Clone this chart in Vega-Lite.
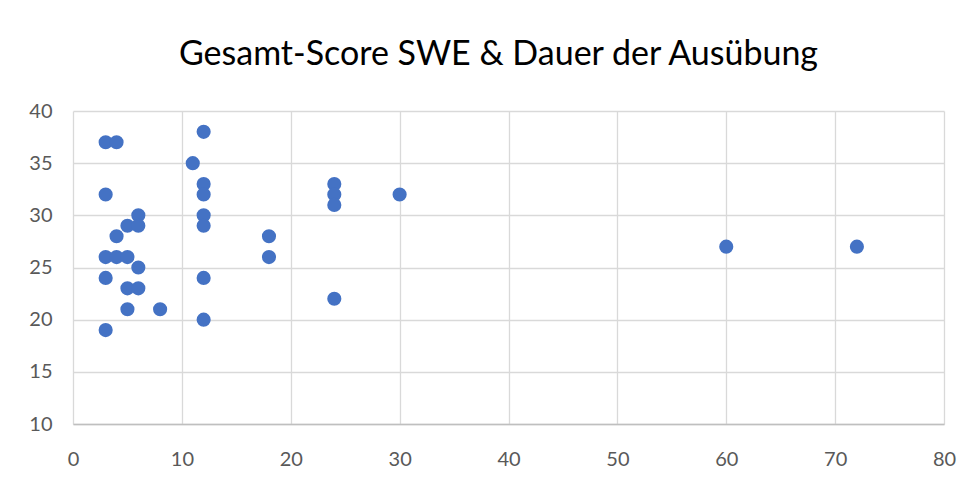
{
  "$schema": "https://vega.github.io/schema/vega-lite/v6.json",
  "autosize": "none",
  "width": 871,
  "height": 313,
  "padding": {"left": 73, "top": 111, "right": 30, "bottom": 55},
  "background": "white",
  "title": {
    "text": "Gesamt-Score SWE & Dauer der Ausübung",
    "font": "Lato",
    "fontSize": 34,
    "fontWeight": "normal",
    "color": "#000000",
    "anchor": "middle",
    "frame": "group",
    "dx": -10,
    "baseline": "alphabetic",
    "offset": 2
  },
  "data": {
    "values": [
      {"dauer": 3, "score": 37}, {"dauer": 3, "score": 32}, {"dauer": 3, "score": 26}, {"dauer": 3, "score": 24}, {"dauer": 3, "score": 19},
      {"dauer": 4, "score": 37}, {"dauer": 4, "score": 28}, {"dauer": 4, "score": 26},
      {"dauer": 5, "score": 29}, {"dauer": 5, "score": 26}, {"dauer": 5, "score": 23}, {"dauer": 5, "score": 21},
      {"dauer": 6, "score": 30}, {"dauer": 6, "score": 29}, {"dauer": 6, "score": 25}, {"dauer": 6, "score": 23},
      {"dauer": 8, "score": 21},
      {"dauer": 11, "score": 35},
      {"dauer": 12, "score": 38}, {"dauer": 12, "score": 33}, {"dauer": 12, "score": 32}, {"dauer": 12, "score": 30}, {"dauer": 12, "score": 29}, {"dauer": 12, "score": 24}, {"dauer": 12, "score": 20},
      {"dauer": 18, "score": 28}, {"dauer": 18, "score": 26},
      {"dauer": 24, "score": 33}, {"dauer": 24, "score": 32}, {"dauer": 24, "score": 31}, {"dauer": 24, "score": 22},
      {"dauer": 30, "score": 32},
      {"dauer": 60, "score": 27},
      {"dauer": 72, "score": 27}
    ]
  },
  "mark": {"type": "point", "filled": true, "size": 200, "color": "#4472C4", "opacity": 1},
  "encoding": {
    "x": {
      "field": "dauer", "type": "quantitative",
      "scale": {"domain": [0, 80], "nice": false, "zero": false},
      "axis": {
        "title": null, "values": [0, 10, 20, 30, 40, 50, 60, 70, 80],
        "ticks": false, "domain": true, "domainColor": "#bfbfbf", "domainWidth": 1.5,
        "grid": true, "gridColor": "#d9d9d9", "gridWidth": 1.3,
        "labelFont": "Lato", "labelFontSize": 20, "labelColor": "#595959",
        "labelPadding": 25, "labelFlush": false
      }
    },
    "y": {
      "field": "score", "type": "quantitative",
      "scale": {"domain": [10, 40], "nice": false, "zero": false},
      "axis": {
        "title": null, "values": [10, 15, 20, 25, 30, 35, 40],
        "ticks": false, "domain": false,
        "grid": true, "gridColor": "#d9d9d9", "gridWidth": 1.3,
        "labelFont": "Lato", "labelFontSize": 20, "labelColor": "#595959",
        "labelPadding": 21, "labelFlush": false
      }
    }
  },
  "config": {"view": {"stroke": null}}
}
